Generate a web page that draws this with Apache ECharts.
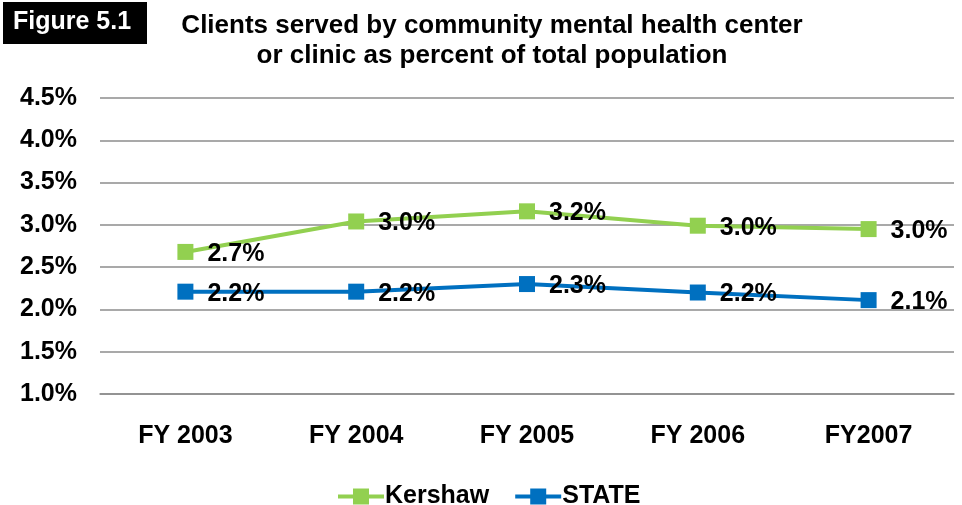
<!DOCTYPE html>
<html>
<head>
<meta charset="utf-8">
<script src="https://cdn.jsdelivr.net/npm/echarts@6/dist/echarts.min.js"></script>
<style>
  html, body { margin: 0; padding: 0; background: #fff; }
  #chart { width: 962px; height: 505px; }
</style>
</head>
<body>
<div id="chart"></div>
<script>
// Fiscal years on the x axis
const years = ['FY 2003', 'FY 2004', 'FY 2005', 'FY 2006', 'FY2007'];
// Clients served as percent of total population
const kershaw = [2.68, 3.04, 3.16, 2.99, 2.95];
const state = [2.21, 2.21, 2.30, 2.20, 2.11];
// Y axis range and step (percent)
const yMin = 1.0, yMax = 4.5, yStep = 0.5;

const FONT = '"Liberation Sans", Arial, sans-serif';
const GREEN = '#92D050';
const BLUE = '#0070C0';

const labelStyle = {
  show: true,
  position: 'right',
  distance: 14,
  offset: [0, 2],
  fontFamily: FONT,
  fontWeight: 'bold',
  fontSize: 25,
  color: '#000',
  formatter: p => p.value.toFixed(1) + '%'
};

const chart = echarts.init(document.getElementById('chart'), null, { renderer: 'canvas' });
chart.setOption({
  animation: false,
  backgroundColor: '#fff',
  title: {
    text: 'Clients served by community mental health center\nor clinic as percent of total population',
    left: 487, top: 6, textAlign: 'center',
    textStyle: { fontFamily: FONT, fontWeight: 'bold', fontSize: 26, color: '#000', lineHeight: 30, align: 'center' }
  },
  graphic: [
    { type: 'rect', left: 3, top: 2, shape: { width: 144, height: 42 }, style: { fill: '#000' } },
    { type: 'text', left: 13, top: 10, style: { text: 'Figure 5.1', fill: '#fff', font: 'bold 25px ' + FONT } }
  ],
  grid: { left: 100, right: 8, top: 98, bottom: 111 },
  legend: {
    left: 331, top: 479,
    itemWidth: 46, itemHeight: 20, itemGap: 24,
    lineStyle: { width: 4 },
    textStyle: { fontFamily: FONT, fontWeight: 'bold', fontSize: 25, color: '#000', padding: [0, 0, 0, -4] },
    data: ['Kershaw', 'STATE']
  },
  xAxis: {
    type: 'category',
    data: years,
    axisLine: { lineStyle: { color: '#8c8c8c', width: 1.5 } },
    axisTick: { show: false },
    axisLabel: { margin: 30, fontFamily: FONT, fontWeight: 'bold', fontSize: 25, color: '#000' }
  },
  yAxis: {
    type: 'value',
    min: yMin, max: yMax, interval: yStep,
    axisLine: { show: false },
    axisTick: { show: false },
    splitLine: { lineStyle: { color: '#8c8c8c', width: 1.5 } },
    axisLabel: { margin: 23, fontFamily: FONT, fontWeight: 'bold', fontSize: 25, color: '#000',
      formatter: v => v.toFixed(1) + '%' }
  },
  series: [
    {
      name: 'Kershaw', type: 'line', data: kershaw,
      symbol: 'rect', symbolSize: 16,
      lineStyle: { color: GREEN, width: 4 },
      itemStyle: { color: GREEN },
      label: labelStyle
    },
    {
      name: 'STATE', type: 'line', data: state,
      symbol: 'rect', symbolSize: 16,
      lineStyle: { color: BLUE, width: 4 },
      itemStyle: { color: BLUE },
      label: labelStyle
    }
  ]
});
</script>
</body>
</html>
